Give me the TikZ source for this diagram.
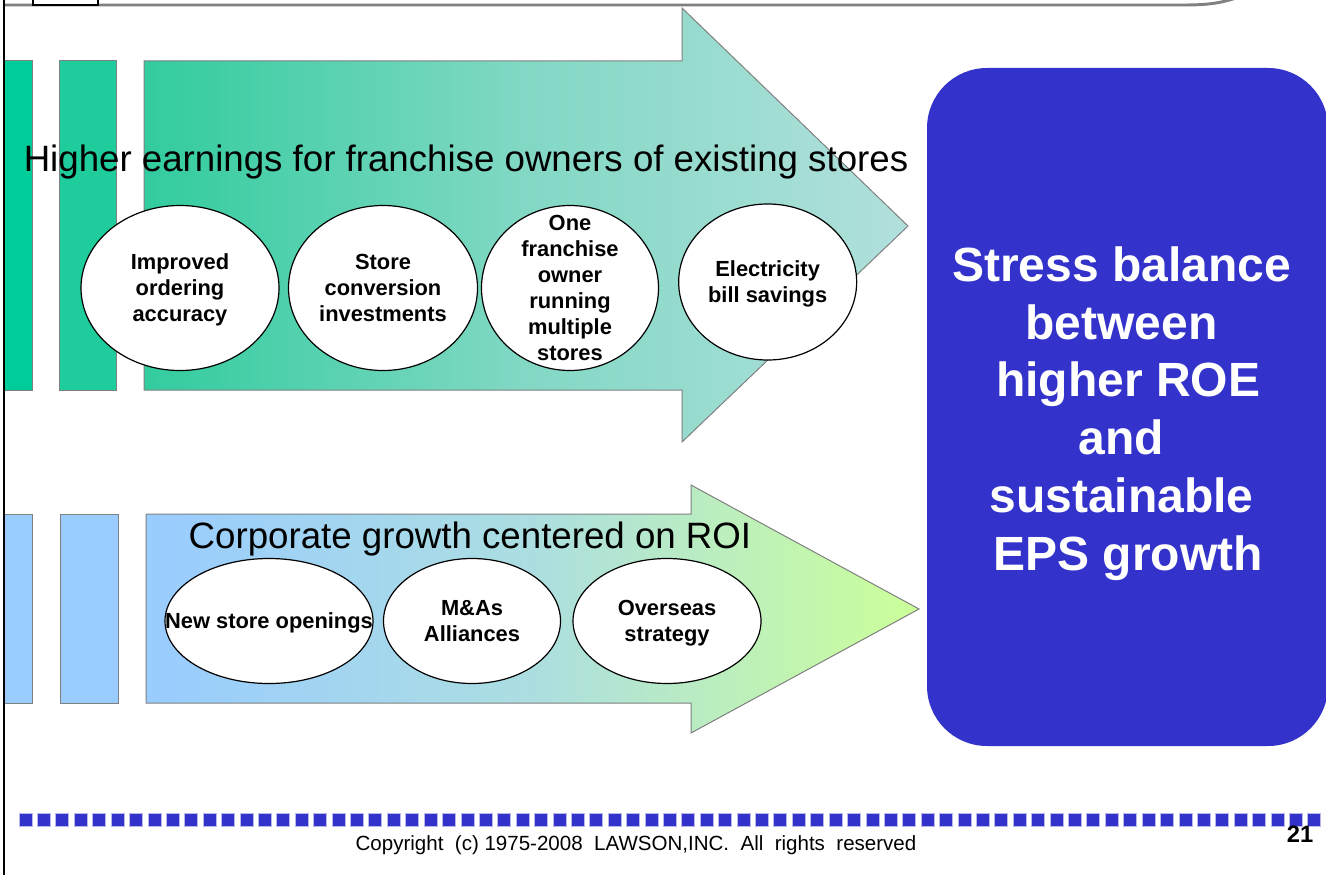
\documentclass[tikz,border=0pt]{standalone}
\usepackage{fontspec}
\setmainfont{Liberation Sans}
\usetikzlibrary{positioning,shapes.geometric}
\definecolor{lawblue}{RGB}{51,51,204}
\definecolor{edgegray}{RGB}{128,128,128}
\definecolor{tealA}{RGB}{0,204,153}
\definecolor{tealB}{RGB}{30,204,156}
\definecolor{tealL}{RGB}{50,204,158}
\definecolor{tealM}{RGB}{130,216,196}
\definecolor{tealR}{RGB}{178,224,220}
\definecolor{skyA}{RGB}{153,204,255}
\definecolor{skyM}{RGB}{172,222,225}
\definecolor{limeR}{RGB}{204,255,153}

\begin{document}
\begin{tikzpicture}[x=0.75pt, y=-0.75pt, node distance=146.25pt, on grid,
    bubble/.style={ellipse, draw, fill=white, line width=0.9pt,
      inner xsep=-80pt, inner ysep=-80pt, align=center, text depth=0pt,
      font=\bfseries\fontsize{16.4}{19.5}\selectfont},
    heading/.style={inner sep=0pt, font=\fontsize{27.5}{33}\selectfont},
    bar/.style={draw=edgegray, line width=0.75pt}]
  \useasboundingbox (0,0) rectangle (1326,874);%

  % slide frame
  \draw[edgegray, line width=2.2pt] (4,5) -- (1183,5)
    .. controls (1210,5) and (1222,3) .. (1242,-4);%
  \draw[line width=2.2pt, fill=white] (33,-8) rectangle (98,5);%

  % upper arrow: franchise owners
  \draw[bar, fill=tealA] (4,61) rectangle (32,390);%
  \draw[bar, fill=tealB] (59,61) rectangle (116,390);%
  \draw[bar, left color=tealL, right color=tealR, middle color=tealM]
    (144,61) -- (682,61) -- (682,8) -- (908,226) -- (682,442)
    -- (682,390) -- (144,390) -- cycle;%
  \node[heading] (owners) at (466,162)
    {Higher earnings for franchise owners of existing stores};%
  \node[bubble, minimum width=148.5pt, minimum height=123.75pt]
    (ordering) at (180,288) {Improved\\ordering\\accuracy};%
  \node[bubble, minimum width=141.75pt, minimum height=123.75pt]
    (conversion) [right=of ordering, xshift=6pt] {Store\\conversion\\investments};%
  \node[bubble, minimum width=132.75pt, minimum height=123.75pt]
    (multi) [right=of conversion, xshift=-6pt]
    {One\\franchise\\owner\\running\\multiple\\stores};%
  \node[bubble, minimum width=133.5pt, minimum height=117pt]
    (power) [right=of multi, xshift=2pt, yshift=4.5pt] {Electricity\\bill savings};%

  % lower arrow: corporate growth
  \draw[bar, fill=skyA] (4,514) rectangle (32,703);%
  \draw[bar, fill=skyA] (60,514) rectangle (118,703);%
  \draw[bar, left color=skyA, right color=limeR, middle color=skyM]
    (146,514) -- (691,514) -- (691,485) -- (919,609) -- (691,733)
    -- (691,703) -- (146,703) -- cycle;%
  \node[heading] (growth) at (470,539) {Corporate growth centered on ROI};%
  \node[bubble, minimum width=156pt, minimum height=93.75pt]
    (opening) at (269,621) {New store openings};%
  \node[bubble, minimum width=132.75pt, minimum height=93.75pt]
    (alliance) [right=of opening, xshift=6pt] {M\&As\\Alliances};%
  \node[bubble, minimum width=141pt, minimum height=93.75pt]
    (overseas) [right=of alliance] {Overseas\\strategy};%

  % goal box, its text sits a little left of and below the centre
  \node[fill=lawblue, rounded corners=45pt, minimum width=300.75pt,
    minimum height=508.5pt] (goal) at (1127.5,407) {};%
  \node[text=white, align=center, font=\bfseries\fontsize{36}{43.3}\selectfont]
    (goaltext) at ([xshift=-4.5pt, yshift=-4.8pt]goal.center)
    {Stress balance\\between\\\hbox{\ }higher ROE\\and\\sustainable\\\hbox{\ }EPS growth};%

  % footer
  \foreach \i in {0,...,70}
    \draw[fill=lawblue, draw=lawblue!35, line width=0.5pt]
      ({19+18.41*\i},813) rectangle ++(13,13);%
  \node[font=\fontsize{15.4}{18}\selectfont, inner sep=0pt] (copy) at (636,845)
    {Copyright~~(c) 1975-2008~~LAWSON,INC.~~All~~rights~~reserved};%
  \node[font=\bfseries\fontsize{17.8}{20}\selectfont, inner sep=0pt]
    (page) at (1300,834.5) {21};%

  \draw[line width=1.5pt] (4,-2) -- (4,880);%
\end{tikzpicture}
\end{document}
